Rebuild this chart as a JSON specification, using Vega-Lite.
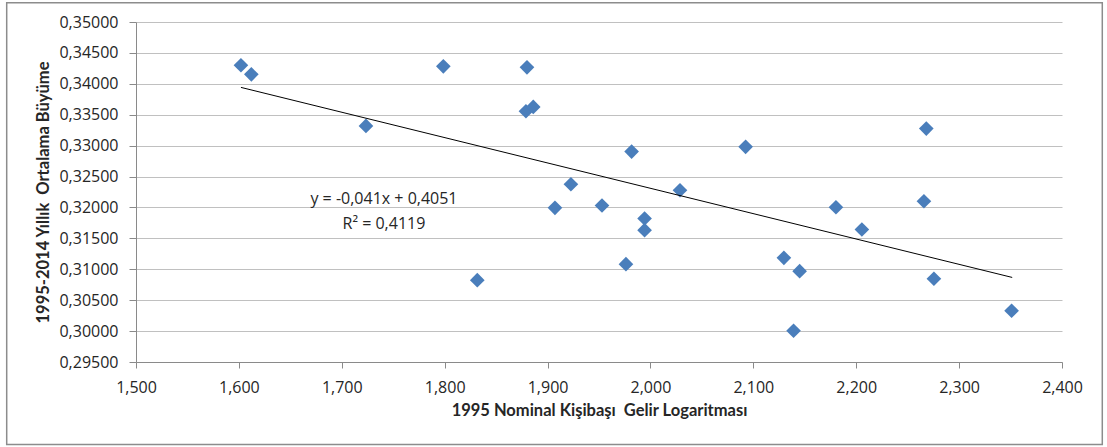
{
  "$schema": "https://vega.github.io/schema/vega-lite/v6.json",
  "width": 926,
  "height": 340,
  "autosize": "none",
  "padding": {"left": 136, "top": 22, "right": 45, "bottom": 85},
  "background": "white",
  "config": {
    "view": {"stroke": null},
    "font": "Open Sans",
    "axis": {
      "labelFont": "Open Sans",
      "labelFontSize": 16,
      "labelColor": "#262626",
      "labelOverlap": false,
      "labelFlush": false,
      "labelBound": false,
      "titleFont": "Lato",
      "titleFontWeight": "bold",
      "titleFontSize": 16.5,
      "titleColor": "#262626",
      "domainColor": "#8a8a8a",
      "tickColor": "#8a8a8a",
      "gridColor": "#c0c0c0",
      "gridOpacity": 1
    }
  },
  "layer": [
    {
      "data": {"values": [{}]},
      "mark": {"type": "rect", "fill": null, "stroke": "#8c8c8c", "strokeWidth": 1.5},
      "encoding": {
        "x": {"datum": 1.37433, "type": "quantitative"},
        "x2": {"datum": 2.43916},
        "y": {"datum": 0.353122, "type": "quantitative"},
        "y2": {"datum": 0.281654}
      }
    },
    {
      "data": {"values": [
        {"x": 1.6020, "y": 0.34300},
        {"x": 1.6121, "y": 0.34154},
        {"x": 1.7235, "y": 0.33319},
        {"x": 1.7987, "y": 0.34283},
        {"x": 1.8800, "y": 0.34267},
        {"x": 1.8790, "y": 0.33556},
        {"x": 1.8861, "y": 0.33626},
        {"x": 1.8317, "y": 0.30824},
        {"x": 1.9072, "y": 0.31994},
        {"x": 1.9227, "y": 0.32376},
        {"x": 1.9529, "y": 0.32031},
        {"x": 1.9817, "y": 0.32904},
        {"x": 1.9762, "y": 0.31083},
        {"x": 1.9943, "y": 0.31821},
        {"x": 1.9943, "y": 0.31633},
        {"x": 2.0287, "y": 0.32279},
        {"x": 2.0925, "y": 0.32980},
        {"x": 2.2681, "y": 0.33276},
        {"x": 2.2658, "y": 0.32101},
        {"x": 2.1803, "y": 0.32004},
        {"x": 2.2055, "y": 0.31643},
        {"x": 2.1297, "y": 0.31185},
        {"x": 2.1450, "y": 0.30970},
        {"x": 2.1391, "y": 0.30005},
        {"x": 2.2755, "y": 0.30846},
        {"x": 2.3510, "y": 0.30329}
      ]},
      "mark": {"type": "point", "shape": "diamond", "filled": true, "size": 215, "color": "#4a7ebb", "opacity": 1},
      "encoding": {
        "x": {
          "field": "x", "type": "quantitative",
          "scale": {"domain": [1.5, 2.4], "nice": false, "zero": false},
          "axis": {
            "values": [1.5, 1.6, 1.7, 1.8, 1.9, 2.0, 2.1, 2.2, 2.3, 2.4],
            "tickCount": 30,
            "labelExpr": "replace(format(datum.value, '.3f'), '.', ',')",
            "grid": false,
            "tickSize": 6,
            "labelPadding": 11,
            "titlePadding": 7,
            "title": "1995 Nominal Kişibaşı\u00a0 Gelir Logaritması"
          }
        },
        "y": {
          "field": "y", "type": "quantitative",
          "scale": {"domain": [0.295, 0.35], "nice": false, "zero": false},
          "axis": {
            "values": [0.295, 0.3, 0.305, 0.31, 0.315, 0.32, 0.325, 0.33, 0.335, 0.34, 0.345, 0.35],
            "tickCount": 30,
            "labelExpr": "replace(format(datum.value, '.5f'), '.', ',')",
            "grid": true,
            "tickSize": 7,
            "labelPadding": 11,
            "titlePadding": 7,
            "title": "1995-2014 Yıllık\u00a0 Ortalama Büyüme"
          }
        }
      }
    },
    {
      "data": {"values": [
        {"x": 1.6020, "y": 0.33942},
        {"x": 2.3516, "y": 0.30868}
      ]},
      "mark": {"type": "line", "color": "#000000", "strokeWidth": 1},
      "encoding": {
        "x": {"field": "x", "type": "quantitative"},
        "y": {"field": "y", "type": "quantitative"}
      }
    },
    {
      "data": {"values": [
        {"x": 1.741, "y": 0.3213, "t": "y = -0,041x + 0,4051"},
        {"x": 1.741, "y": 0.31735, "t": "R² = 0,4119"}
      ]},
      "mark": {"type": "text", "font": "Open Sans", "fontSize": 16, "color": "#262626", "align": "center", "baseline": "middle"},
      "encoding": {
        "x": {"field": "x", "type": "quantitative"},
        "y": {"field": "y", "type": "quantitative"},
        "text": {"field": "t"}
      }
    }
  ]
}
